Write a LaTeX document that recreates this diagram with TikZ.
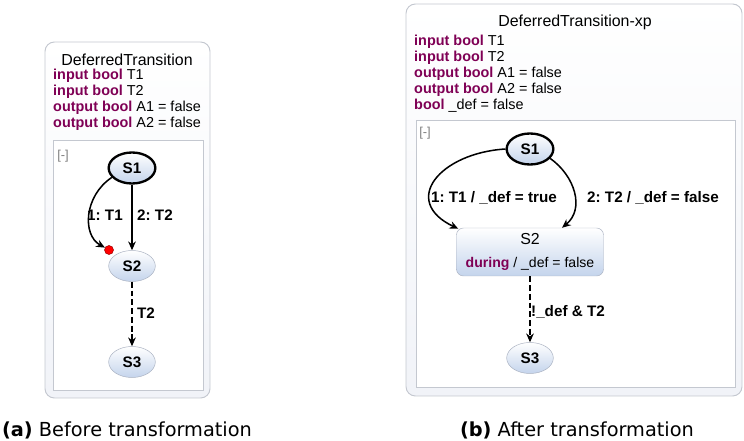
\documentclass[tikz,border=0pt]{standalone}
\usepackage{fontspec}
\setmainfont{Liberation Sans}
\newfontfamily\capfont{DejaVu Sans}
\usepackage{xcolor}
\definecolor{keyword}{HTML}{7F0055}
\definecolor{boxline}{HTML}{C4C8D0}
\definecolor{boxfill}{HTML}{F1F3F8}
\definecolor{stateline}{HTML}{A8B0C0}
\definecolor{statefill}{HTML}{C4D4EC}
\usetikzlibrary{arrows.meta,positioning,calc,shapes.geometric}
\newcommand{\kw}[1]{{\color{keyword}\bfseries #1}}
\frenchspacing

\tikzset{
  chart/.style={draw=boxline, line width=0.8pt, rounded corners=8pt,
    top color=white, bottom color=boxfill},
  region/.style={draw=boxline, fill=white},
  decls/.style={anchor=north west, align=left, inner sep=0pt,
    font=\fontsize{12.3}{13.6}\selectfont},
  statebox/.style={ellipse, draw=stateline, top color=white, bottom color=statefill,
    minimum width=1.4cm, minimum height=0.93cm, inner sep=0pt,
    font=\bfseries\fontsize{13}{15}\selectfont},
  initial/.style={draw=black, line width=2pt},
  trans/.style={-{Stealth[length=7.5pt,width=6.5pt]}, line width=1.3pt},
  dashtrans/.style={trans, dash pattern=on 5pt off 2.5pt},
  translabel/.style={font=\bfseries\fontsize{13}{15}\selectfont, inner sep=1pt},
  caption/.style={font=\capfont\fontsize{16.5}{19}\selectfont}
}

\begin{document}
\begin{tikzpicture}[x=0.03cm, y=0.03cm]
  \useasboundingbox (0,0) rectangle (744,441);

  % (a) before
  \draw[chart] (45,43) rectangle (210,399);
  \node (titlea) at (127,381) {\fontsize{13.6}{15}\selectfont DeferredTransition};
  \node[decls] (declsa) at (53,372) {
    \kw{input bool} T1\\
    \kw{input bool} T2\\
    \kw{output bool} A1 = false\\
    \kw{output bool} A2 = false};
  \draw[region] (53,51) rectangle (203,301);
  \node[font=\fontsize{11}{13}\selectfont, text=gray] (colla) at (63,285) {[-]};

  \node[statebox, initial] (s1a) at (132,273) {S1};
  \node[statebox] (s2a) at (132,175) {S2};
  \node[statebox] (s3a) at (132,79) {S3};
  \node[circle, fill=red, draw=red!60!black, line width=0.4pt,
    minimum size=0.27cm, inner sep=0pt] (dota) at (109,191) {};

  \draw[trans] (s1a.205) .. controls (84,245) and (82,206) .. (dota.150);
  \draw[trans] (s1a.south) -- (s2a.north);
  \draw[dashtrans] (s2a.south) -- (s3a.north);
  \node[translabel] (l1a) at (105,226) {1: T1};
  \node[translabel] (l2a) at (155,226) {2: T2};
  \node[translabel] (l3a) at (146,128) {T2};

  % (b) after
  \draw[chart] (406,45) rectangle (742,437);
  \node (titleb) at (575,419) {\fontsize{13.6}{15}\selectfont DeferredTransition-xp};
  \node[decls] (declsb) at (414,406) {
    \kw{input bool} T1\\
    \kw{input bool} T2\\
    \kw{output bool} A1 = false\\
    \kw{output bool} A2 = false\\
    \kw{bool} \_def = false};
  \draw[region] (416,54) rectangle (735,321);
  \node[font=\fontsize{11}{13}\selectfont, text=gray] (collb) at (425,308) {[-]};

  \node[statebox, initial] (s1b) at (530,292) {S1};
  \node[statebox, rectangle, rounded corners=6pt, minimum width=4.41cm,
    minimum height=1.44cm, font=\fontsize{13.6}{17}\selectfont, align=center]
    (s2b) at (530,189) {S2\\[3pt]{\fontsize{12}{14}\selectfont\kw{during} / \_def = false}};
  \node[statebox] (s3b) at (530,83) {S3};

  \draw[trans] (s1b.west) .. controls (440,288) and (400,240) .. ($(s2b.north west)+(2,-1)$);
  \draw[trans] (s1b.-25) .. controls (575,265) and (585,232) .. ($(s2b.north)+(32,0)$);
  \draw[dashtrans] (s2b.south) -- (s3b.north);
  \node[translabel] (l1b) at (494,243) {1: T1 / \_def = true};
  \node[translabel] (l2b) at (653,243) {2: T2 / \_def = false};
  \node[translabel] (l3b) at (568,129) {!\_def \& T2};

  \node[caption] (capa) at (127,11) {\textbf{(a)} Before transformation};
  \node[caption] (capb) at (577,11) {\textbf{(b)} After transformation};
\end{tikzpicture}
\end{document}
